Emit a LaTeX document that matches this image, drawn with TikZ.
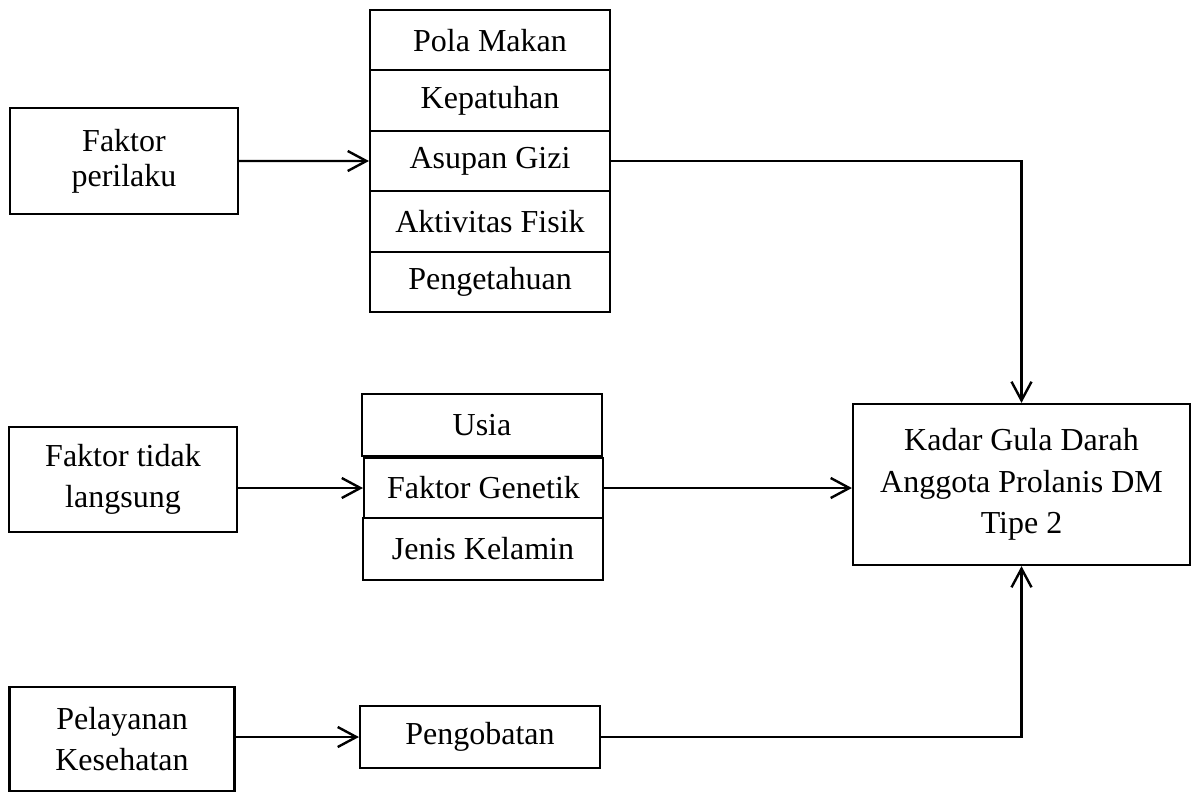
\documentclass[tikz,border=0pt]{standalone}
\usepackage{fontspec}
\setmainfont{Liberation Serif}
\usetikzlibrary{arrows.meta}

\tikzset{
	kotak/.style={draw, line width=0.8pt, inner sep=0pt, align=center,
		font=\fontsize{12}{15.6}\selectfont},
	sel/.style={kotak, minimum width=90pt, minimum height=22.65pt},
	panah/.style={-{Straight Barb[length=7pt,width=7.5pt]}, line width=0.9pt}
}

\begin{document}
\begin{tikzpicture}[x=0.375pt, y=-0.375pt]
	\useasboundingbox (0,0) rectangle (1193,792);
	% kotak faktor di kiri
	\node[kotak, minimum width=85.5pt, minimum height=39.75pt, font=\fontsize{12}{13.1}\selectfont] (perilaku) at (124,161) {Faktor\\perilaku};
	\node[kotak, minimum width=85.5pt, minimum height=39.4pt] (tidak) at (123,479.5) {Faktor tidak\\langsung};
	\node[kotak, minimum width=84.4pt, minimum height=39pt] (pelayanan) at (122,739) {Pelayanan\\Kesehatan};
	% faktor perilaku
	\foreach \teks/\nama [count=\i] in {Pola Makan/pola, Kepatuhan/patuh, Asupan Gizi/asupan, Aktivitas Fisik/aktivitas, Pengetahuan/tahu}
		\node[sel] (\nama) at (490, {-20.2+60.4*\i}) {\teks};
	% faktor tidak langsung
	\node[sel, minimum height=23.25pt] (usia) at (482,425) {Usia};
	\node[sel, minimum width=89.6pt, minimum height=22.5pt] (genetik) at (483.5,488) {Faktor Genetik};
	\node[sel, minimum height=23.25pt] (kelamin) at (483,549) {Jenis Kelamin};
	% pelayanan
	\node[sel, minimum height=23.25pt] (obat) at (480,737) {Pengobatan};
	% hasil
	\node[kotak, minimum width=126.4pt, minimum height=60.4pt] (kadar) at (1021.5,484.5) {Kadar Gula Darah\\Anggota Prolanis DM\\Tipe 2};

	\draw[panah] (perilaku.east) -- (asupan.west);
	\draw[panah] (asupan.east) -| (kadar.north);
	\draw[panah] (tidak.east |- genetik.west) -- (genetik.west);
	\draw[panah] (genetik.east) -- (genetik.east -| kadar.west);
	\draw[panah] (pelayanan.east |- obat.west) -- (obat.west);
	\draw[panah] (obat.east) -| (kadar.south);
\end{tikzpicture}
\end{document}
